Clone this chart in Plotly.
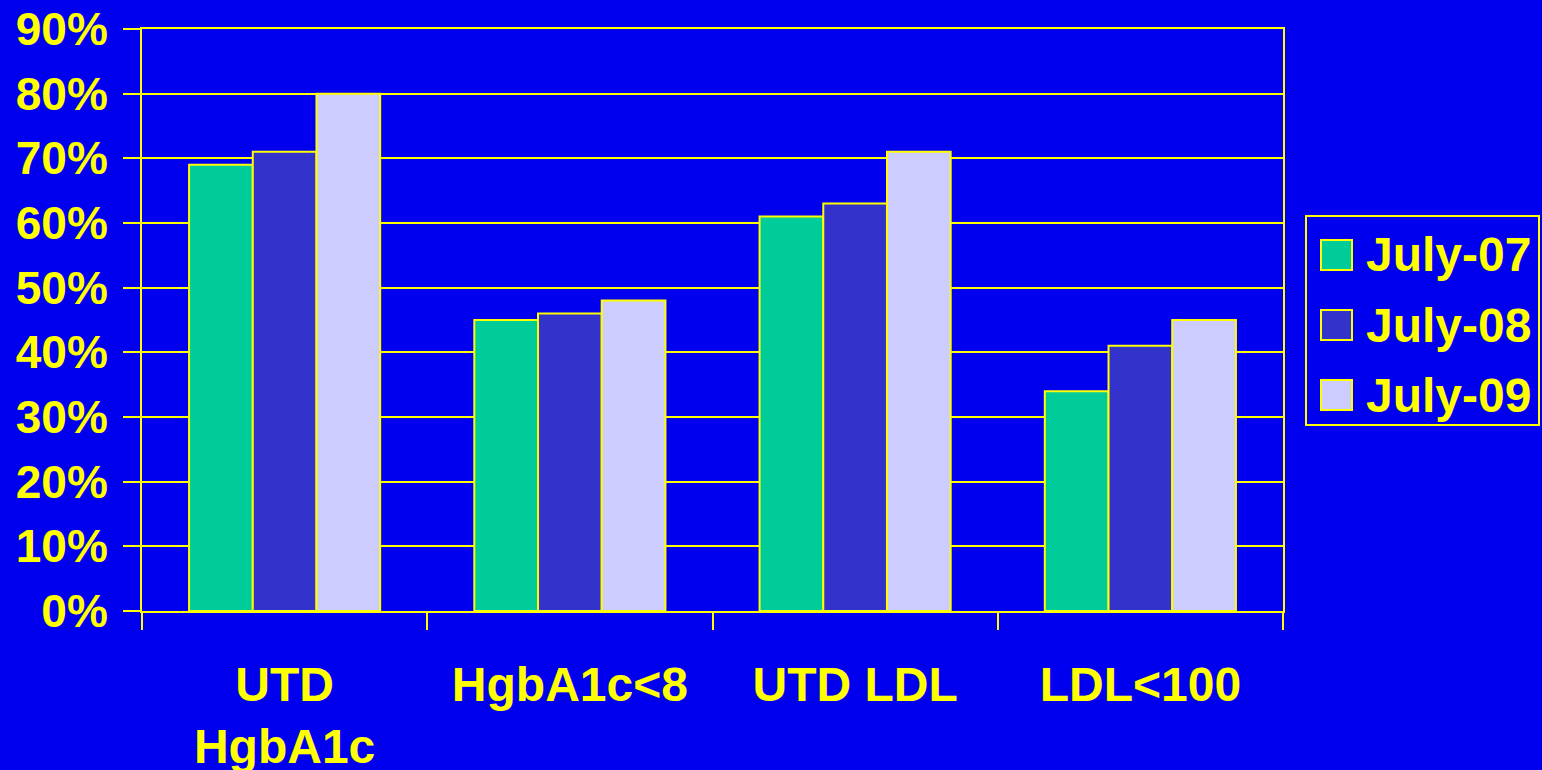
import plotly.graph_objects as go

categories = ["UTD HgbA1c", "HgbA1c<8", "UTD LDL", "LDL<100"]
tick_labels = ["UTD<br>HgbA1c", "HgbA1c<8", "UTD LDL", "LDL<100"]
series_names = ["July-07", "July-08", "July-09"]
july07 = [69, 45, 61, 34]
july08 = [71, 46, 63, 41]
july09 = [80, 48, 71, 45]
y_ticks = [0, 10, 20, 30, 40, 50, 60, 70, 80, 90]
y_tick_labels = ["0%", "10%", "20%", "30%", "40%", "50%", "60%", "70%", "80%", "90%"]

colors = ["#00CC99", "#3333CC", "#CCCCFF"]
BG = "#0000EE"
YEL = "#FFFF00"
FONT = "Liberation Sans, Arial, sans-serif"
FS = 48

fig = go.Figure()
for name, vals, col in zip(series_names, [july07, july08, july09], colors):
    fig.add_trace(go.Bar(
        x=categories, y=vals, name=name,
        marker=dict(color=col, line=dict(color=YEL, width=2)),
        showlegend=False,
    ))

# custom legend (large swatches as in the reference)
W, H = 1542, 770
ml, mr, mt, mb = 142, 259, 29, 159
pw, ph = W - ml - mr, H - mt - mb

def px_x(px):
    return (px - ml) / pw

def px_y(py):
    return (H - mb - py) / ph

fig.add_shape(type="rect", xref="paper", yref="paper",
              x0=px_x(1306), x1=px_x(1539), y0=px_y(216), y1=px_y(425),
              line=dict(color=YEL, width=2), fillcolor=BG, layer="above")
centers = [255, 325, 395]
for name, col, cy in zip(series_names, colors, centers):
    fig.add_shape(type="rect", xref="paper", yref="paper",
                  x0=px_x(1321), x1=px_x(1352), y0=px_y(cy - 15), y1=px_y(cy + 15),
                  line=dict(color=YEL, width=2), fillcolor=col, layer="above")
    fig.add_annotation(xref="paper", yref="paper", x=px_x(1364), y=px_y(cy),
                       xanchor="left", yanchor="middle", text=name, showarrow=False,
                       font=dict(family=FONT, size=FS, color=YEL, weight="bold"))

fig.update_layout(
    width=W, height=H,
    margin=dict(l=ml, r=mr, t=mt, b=mb, pad=0),
    paper_bgcolor=BG, plot_bgcolor=BG,
    barmode="group", bargap=0.33, bargroupgap=0,
    font=dict(family=FONT, size=FS, color=YEL, weight="bold"),
    showlegend=False,
)
fig.update_xaxes(
    type="category", tickvals=categories, ticktext=tick_labels,
    tickson="boundaries", ticks="outside", ticklen=17, tickwidth=2, tickcolor=YEL,
    showline=True, linecolor=YEL, linewidth=2, mirror=True,
    showgrid=False, automargin=False,
    tickfont=dict(family=FONT, size=FS, color=YEL, weight="bold"),
    ticklabelstandoff=30,
)
fig.update_yaxes(
    range=[0, 90], tickvals=y_ticks, ticktext=y_tick_labels,
    ticks="outside", ticklen=17, tickwidth=2, tickcolor=YEL,
    showline=True, linecolor=YEL, linewidth=2, mirror=True,
    showgrid=True, gridcolor=YEL, gridwidth=2,
    zeroline=False, automargin=False,
    tickfont=dict(family=FONT, size=46, color=YEL, weight="bold"),
    ticklabelstandoff=6,
)

fig.write_html("out.html")
